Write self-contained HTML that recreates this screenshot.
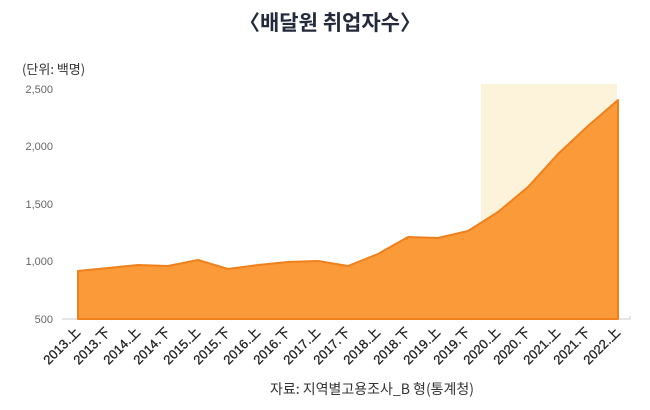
<!DOCTYPE html>
<html><head><meta charset="utf-8"><style>
body{margin:0;background:#fff;width:650px;height:410px;overflow:hidden}
svg{display:block}
</style></head><body>
<svg width="650" height="410" xmlns="http://www.w3.org/2000/svg" font-family="Liberation Sans, Noto Sans CJK KR, sans-serif">
<text x="330" y="30" text-anchor="middle" font-size="21" font-weight="bold" fill="#232a3b" font-family="Noto Sans CJK KR, sans-serif">〈배달원 취업자수〉</text>
<text x="22" y="74" font-size="13" fill="#333" font-family="Noto Sans CJK KR, sans-serif">(단위: 백명)</text>
<g font-size="11" fill="#666" text-anchor="end">
<text x="53" y="93">2,500</text>
<text x="53" y="150">2,000</text>
<text x="53" y="208">1,500</text>
<text x="53" y="265">1,000</text>
<text x="53" y="323">500</text>
</g>
<rect x="481" y="84" width="136" height="235" fill="#fdf3da"/>
<polyline points="62,319 630,319 630,316" fill="none" stroke="#ccc" stroke-width="1"/>
<polygon fill="#fb9a38" stroke="#f0801c" stroke-width="2" stroke-linejoin="round" points="78,319 78,271 108,268 138,265 168,266 198,260 228,269 258,265 288,262 318,261 348,266 378,254 408,237 438,238 468,231 498,212 528,187 558,154 588,126 618,100 618,319"/>
<g font-size="13" fill="#222" stroke="#222" stroke-width="0.3" text-anchor="end">
<text transform="translate(81,333) rotate(-45)">2013.上</text>
<text transform="translate(111,333) rotate(-45)">2013.下</text>
<text transform="translate(141,333) rotate(-45)">2014.上</text>
<text transform="translate(171,333) rotate(-45)">2014.下</text>
<text transform="translate(201,333) rotate(-45)">2015.上</text>
<text transform="translate(231,333) rotate(-45)">2015.下</text>
<text transform="translate(261,333) rotate(-45)">2016.上</text>
<text transform="translate(291,333) rotate(-45)">2016.下</text>
<text transform="translate(321,333) rotate(-45)">2017.上</text>
<text transform="translate(351,333) rotate(-45)">2017.下</text>
<text transform="translate(381,333) rotate(-45)">2018.上</text>
<text transform="translate(411,333) rotate(-45)">2018.下</text>
<text transform="translate(441,333) rotate(-45)">2019.上</text>
<text transform="translate(471,333) rotate(-45)">2019.下</text>
<text transform="translate(501,333) rotate(-45)">2020.上</text>
<text transform="translate(531,333) rotate(-45)">2020.下</text>
<text transform="translate(561,333) rotate(-45)">2021.上</text>
<text transform="translate(591,333) rotate(-45)">2021.下</text>
<text transform="translate(621,333) rotate(-45)">2022.上</text>
</g>
<text x="372" y="394" text-anchor="middle" font-size="14" fill="#333" font-family="Noto Sans CJK KR, sans-serif">자료: 지역별고용조사_B 형(통계청)</text>
</svg>
</body></html>
